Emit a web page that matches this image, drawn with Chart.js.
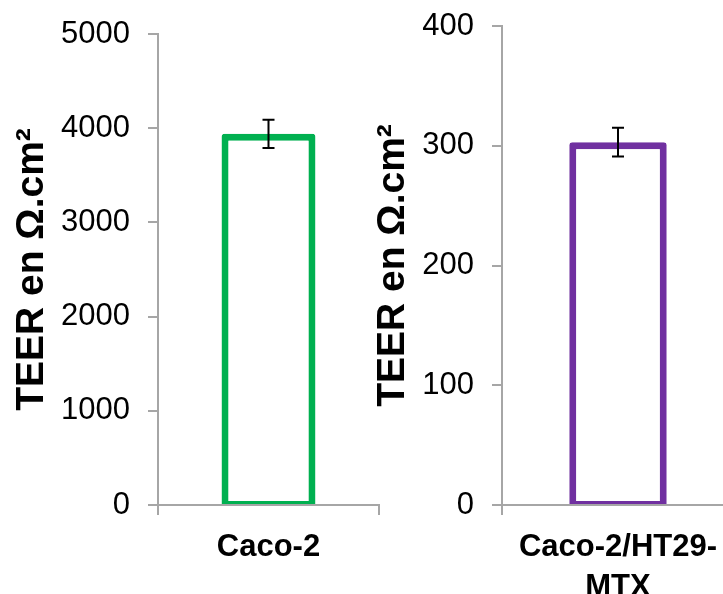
<!DOCTYPE html>
<html>
<head>
<meta charset="utf-8">
<script src="https://cdn.jsdelivr.net/npm/chart.js@4"></script>
<style>
  body { margin: 0; width: 723px; height: 594px; overflow: hidden; background: #fff; position: relative; }
  canvas { position: absolute; top: 0; }
  #chartCaco { left: 0; }
  #chartMtx { left: 360px; }
</style>
</head>
<body>
<canvas id="chartCaco" width="380" height="594"></canvas>
<canvas id="chartMtx" width="374" height="594"></canvas>
<script>
// data Caco-2
const labelsCaco = ["Caco-2"];
const teerCaco = [3940];
const errCaco = [150];
const yMaxCaco = 5000;
const yStepCaco = 1000;

// data Caco-2/HT29-MTX
const labelsMtx = [["Caco-2/HT29-", "MTX"]];
const teerMtx = [303];
const errMtx = [12];
const yMaxMtx = 400;
const yStepMtx = 100;

const yTitle = "TEER en Ω.cm²";
const fontFam = "'Liberation Sans', Arial, sans-serif";
const axisGrey = "#A6A6A6";

// error bar plugin
const errorBars = {
  id: "errorBars",
  afterDatasetsDraw(chart, args, opts) {
    const ctx = chart.ctx;
    const yScale = chart.scales.y;
    const meta = chart.getDatasetMeta(0);
    ctx.save();
    ctx.strokeStyle = "#000";
    ctx.lineWidth = 2;
    meta.data.forEach((bar, i) => {
      const v = chart.data.datasets[0].data[i];
      const top = yScale.getPixelForValue(v + opts.err[i]);
      const bot = yScale.getPixelForValue(v - opts.err[i]);
      ctx.beginPath();
      ctx.moveTo(bar.x, top); ctx.lineTo(bar.x, bot);
      ctx.moveTo(bar.x - 6, top); ctx.lineTo(bar.x + 6, top);
      ctx.moveTo(bar.x - 6, bot); ctx.lineTo(bar.x + 6, bot);
      ctx.stroke();
    });
    // gris axis line back on top of bar bottom
    const xs = chart.scales.x;
    ctx.strokeStyle = axisGrey;
    ctx.beginPath();
    ctx.moveTo(xs.left, xs.top);
    ctx.lineTo(xs.right, xs.top);
    ctx.stroke();
    ctx.restore();
  }
};

function makeChart(id, labels, values, errs, color, yMax, yStep, axisW, padTop, padRight, barPct, titlePad) {
  return new Chart(document.getElementById(id), {
    type: "bar",
    data: {
      labels: labels,
      datasets: [{
        label: "TEER",
        data: values,
        backgroundColor: "#fff",
        borderColor: color,
        borderWidth: { top: 7, left: 7, right: 7, bottom: 3 },
        borderRadius: { topLeft: 3, topRight: 3 },
        borderSkipped: false,
        barPercentage: barPct,
        categoryPercentage: 1
      }]
    },
    options: {
      responsive: false,
      animation: false,
      layout: { padding: { top: padTop, right: padRight, left: 0, bottom: 0 } },
      plugins: {
        legend: { display: false },
        tooltip: { enabled: false },
        errorBars: { err: errs }
      },
      scales: {
        x: {
          grid: { drawOnChartArea: false, tickLength: 10, color: axisGrey, lineWidth: 2, offset: true },
          border: { display: true, color: axisGrey, width: 2 },
          ticks: {
            color: "#000", padding: 12, maxRotation: 0, autoSkip: false,
            font: { family: fontFam, size: 31, weight: "bold", lineHeight: 1.3 }
          },
          afterFit(s) { s.height = 89; s.paddingLeft = 0; s.paddingRight = 0; }
        },
        y: {
          min: 0,
          max: yMax,
          grid: { drawOnChartArea: false, tickLength: 10, color: axisGrey, lineWidth: 2 },
          border: { display: true, color: axisGrey, width: 2 },
          ticks: {
            stepSize: yStep, color: "#000", padding: 18,
            font: { family: fontFam, size: 31 },
            callback: (v) => String(v)
          },
          title: {
            display: true, text: yTitle, color: "#000",
            font: { family: fontFam, size: 39, weight: "bold" },
            padding: { top: titlePad, bottom: 0 }
          },
          afterFit(s) { s.width = axisW; s.paddingTop = 0; s.paddingBottom = 0; }
        }
      }
    },
    plugins: [errorBars]
  });
}

makeChart("chartCaco", labelsCaco, teerCaco, errCaco, "#00B050", yMaxCaco, yStepCaco, 158, 34, 1, 0.425, 9);
makeChart("chartMtx", labelsMtx, teerMtx, errMtx, "#7030A0", yMaxMtx, yStepMtx, 142, 26, 0, 0.42, 10);
</script>
</body>
</html>
